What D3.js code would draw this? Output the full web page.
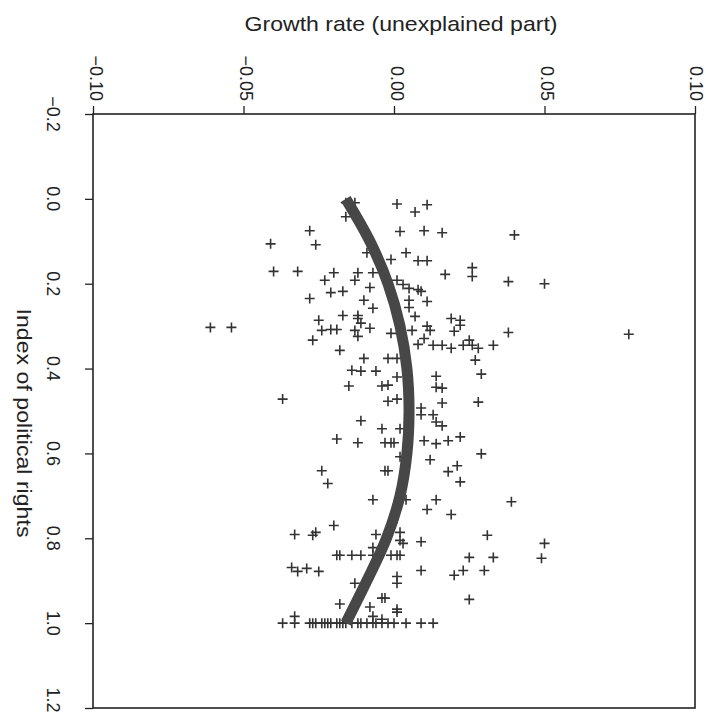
<!DOCTYPE html>
<html>
<head>
<meta charset="utf-8">
<script src="https://cdn.jsdelivr.net/npm/d3@7"></script>
<style>
  body { margin: 0; background: #fff; }
  svg { display: block; }
  text { font-family: "Liberation Sans", Arial, sans-serif; fill: #222; }
</style>
</head>
<body>
<svg id="chart" width="706" height="714"></svg>
<script>
// ticks
const growthTicks = [-0.10, -0.05, 0.00, 0.05, 0.10];
const rightsTicks = [-0.2, 0.0, 0.2, 0.4, 0.6, 0.8, 1.0, 1.2];

// scatter: index of political rights (p) and unexplained growth (g)
const rightsIndex = [
  0.009,0.009,0.012,0.031,0.014,0.042,0.075,0.077,0.075,0.080,
  0.085,0.106,0.108,0.127,0.127,0.143,0.146,0.146,0.171,0.171,
  0.174,0.192,0.174,0.192,0.174,0.178,0.162,0.183,0.195,0.200,
  0.192,0.202,0.211,0.214,0.218,0.209,0.221,0.218,0.235,0.239,
  0.258,0.239,0.256,0.242,0.277,0.275,0.275,0.282,0.286,0.310,
  0.308,0.308,0.310,0.293,0.305,0.324,0.303,0.303,0.317,0.310,
  0.300,0.310,0.329,0.333,0.282,0.286,0.298,0.312,0.315,0.319,
  0.357,0.376,0.376,0.376,0.404,0.406,0.406,0.420,0.441,0.441,
  0.439,0.472,0.477,0.472,0.523,0.542,0.542,0.566,0.575,0.575,
  0.575,0.575,0.608,0.641,0.641,0.641,0.671,
  0.343,0.345,0.345,0.352,0.345,0.333,0.345,0.352,0.345,0.380,
  0.413,0.418,0.444,0.446,0.481,0.479,0.493,0.509,0.509,0.526,
  0.535,0.570,0.577,0.570,0.561,0.601,0.615,0.643,0.629,0.667,
  0.709,0.709,0.709,0.732,0.744,0.714,0.770,0.791,0.793,0.786,
  0.791,0.786,0.805,0.812,0.808,0.793,0.822,
  0.840,0.840,0.840,0.840,0.840,0.840,0.840,0.840,
  0.812,0.847,0.845,0.845,0.869,0.878,0.871,0.878,0.876,0.876,
  0.887,0.876,0.890,0.906,0.906,0.941,0.941,0.944,0.955,0.962,
  0.967,0.974,0.984,0.984,0.991,
  1,1,1,1,1,1,1,1,1,1,1,1,1,1,1,1,1,1,1,1,1,1,1,1,1
];
const growthRate = [
  -0.016,-0.013,0.001,0.007,0.011,-0.016,-0.028,0.002,0.010,0.016,
  0.040,-0.041,-0.026,-0.009,0.004,-0.001,0.008,0.011,-0.040,-0.032,
  -0.020,-0.023,-0.012,-0.013,-0.007,0.017,0.026,0.026,0.038,0.050,
  0.001,0.003,0.005,0.008,0.009,-0.008,-0.021,-0.017,-0.028,-0.010,
  -0.007,0.005,0.005,0.011,0.007,-0.017,-0.012,-0.012,-0.025,-0.024,
  -0.021,-0.019,-0.013,-0.011,-0.008,-0.012,-0.061,-0.054,-0.001,0.006,
  0.011,0.012,0.010,-0.027,0.019,0.022,0.022,0.020,0.038,0.078,
  -0.018,-0.010,-0.002,0.001,-0.014,-0.011,-0.006,0.001,-0.015,-0.004,
  -0.002,-0.037,-0.002,0.001,-0.011,-0.004,0.002,-0.019,-0.012,-0.003,
  -0.001,0.000,0.002,-0.024,-0.003,-0.002,-0.022,
  0.008,0.013,0.016,0.019,0.023,0.025,0.026,0.028,0.033,0.027,
  0.029,0.014,0.014,0.016,0.016,0.028,0.009,0.009,0.013,0.014,
  0.016,0.010,0.014,0.018,0.022,0.029,0.012,0.018,0.021,0.022,
  -0.007,0.004,0.014,0.011,0.019,0.039,-0.020,-0.033,-0.027,-0.026,
  -0.006,0.002,0.002,0.003,0.009,0.031,-0.007,
  -0.019,-0.018,-0.014,-0.011,-0.007,-0.001,0.001,0.002,
  0.050,0.049,0.025,0.033,-0.034,-0.032,-0.029,-0.025,0.009,0.023,
  0.020,0.030,0.001,0.001,-0.013,-0.004,-0.003,0.025,-0.018,-0.008,
  0.001,0.001,-0.033,-0.007,-0.004,
  -0.037,-0.033,-0.028,-0.027,-0.026,-0.024,-0.023,-0.022,-0.021,-0.019,
  -0.018,-0.017,-0.016,-0.014,-0.012,-0.011,-0.009,-0.007,-0.006,-0.004,
  -0.002,0.000,0.004,0.009,0.013
];

// fitted curve, read at a few points along the thick line
const fitRights = [0, 0.1, 0.2, 0.3, 0.4, 0.5, 0.6, 0.7, 0.8, 0.9, 1.0];
const fitGrowth = [-0.016, -0.0080, -0.0020, 0.0020, 0.0043, 0.0050, 0.0043, 0.0020, -0.0025, -0.0090, -0.0160];

const svg = d3.select("#chart");
// page is a rotated book figure: growth along the top, rights down the left
const x = d3.scaleLinear().domain([-0.10, 0.10]).range([93, 695]);
const y = d3.scaleLinear().domain([-0.2, 1.2]).range([114, 708]);

// frame
svg.append("rect")
    .attr("x", x(-0.10)).attr("y", y(-0.2))
    .attr("width", x(0.10) - x(-0.10)).attr("height", y(1.2) - y(-0.2))
    .attr("fill", "none").attr("stroke", "#222").attr("stroke-width", 1.6);

// top axis
let topAxis = svg.append("g").attr("transform", `translate(0,${y(-0.2)})`)
    .call(d3.axisTop(x).tickValues(growthTicks).tickSize(8).tickFormat(""));
topAxis.select(".domain").remove();
topAxis.selectAll("line").attr("stroke", "#222").attr("stroke-width", 1.3);
svg.append("g").selectAll("text").data(growthTicks).enter().append("text")
    .attr("transform", d => `translate(${Math.min(x(d) + 3, 696)},101) rotate(90)`)
    .attr("text-anchor", "end").attr("dy", "0.35em")
    .style("font-size", "18px")
    .text(d => d3.format(".2f")(d).replace("-", "\u2212"));

// left axis
let leftAxis = svg.append("g").attr("transform", `translate(${x(-0.10)},0)`)
    .call(d3.axisLeft(y).tickValues(rightsTicks).tickSize(8).tickFormat(""));
leftAxis.select(".domain").remove();
leftAxis.selectAll("line").attr("stroke", "#222").attr("stroke-width", 1.3);
svg.append("g").selectAll("text").data(rightsTicks).enter().append("text")
    .attr("transform", d => `translate(47,${Math.min(y(d), 700)}) rotate(90)`)
    .attr("text-anchor", "middle")
    .style("font-size", "18px")
    .text(d => d3.format(".1f")(d).replace("-", "\u2212"));

// titles
svg.append("text").attr("x", 401).attr("y", 31)
    .attr("text-anchor", "middle").style("font-size", "21px")
    .attr("textLength", 313).attr("lengthAdjust", "spacingAndGlyphs")
    .text("Growth rate (unexplained part)");
svg.append("text").attr("transform", "translate(17,423) rotate(90)")
    .attr("text-anchor", "middle").style("font-size", "21px")
    .attr("textLength", 229).attr("lengthAdjust", "spacingAndGlyphs")
    .text("Index of political rights");

// points
const pts = rightsIndex.map((p, i) => ({p: p, g: growthRate[i]}));
svg.append("g").selectAll("path").data(pts).enter().append("path")
    .attr("transform", d => `translate(${x(d.g)},${y(d.p)})`)
    .attr("d", "M-5,0H5M0,-5V5")
    .attr("stroke", "#333").attr("stroke-width", 1.6).attr("fill", "none");

// fitted curve
const fit = fitRights.map((p, i) => [fitGrowth[i], p]);
svg.append("path")
    .attr("d", d3.line().x(d => x(d[0])).y(d => y(d[1])).curve(d3.curveCatmullRom)(fit))
    .attr("fill", "none").attr("stroke", "#474747").attr("stroke-width", 11);
</script>
</body>
</html>
